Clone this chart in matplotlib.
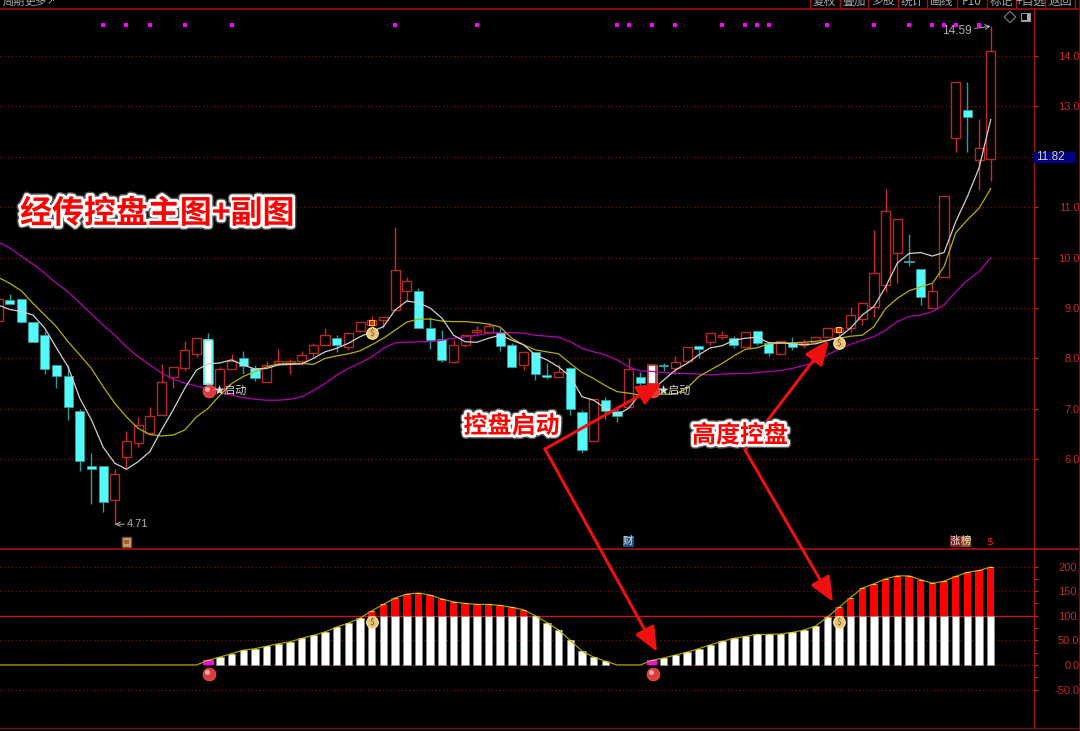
import numpy as np
import matplotlib
matplotlib.use('Agg')
import matplotlib.pyplot as plt
import matplotlib.patheffects as pe
from matplotlib.patches import FancyArrowPatch, Rectangle

plt.rcParams['font.family'] = ['Noto Sans CJK SC', 'DejaVu Sans']

opens = [8.75, 9.16, 9.18, 8.73, 8.46, 7.86, 7.66, 6.96, 5.86, 5.87, 5.20, 6.04, 6.32, 6.51, 6.87, 7.64, 7.80, 8.09, 8.36, 7.36,
         7.78, 8.00, 7.81, 7.54, 7.88, 7.91, 7.95, 8.10, 8.26, 8.40, 8.23, 8.55, 8.66, 8.76, 8.96, 9.34, 9.33, 8.60, 8.38, 7.93,
         8.26, 8.52, 8.53, 8.53, 8.26, 7.86, 8.13, 7.67, 7.64, 7.80, 6.94, 6.36, 7.17, 6.96, 7.03, 7.64, 7.86, 7.87, 7.80, 7.95,
         8.25, 8.32, 8.42, 8.40, 8.23, 8.54, 8.30, 8.08, 8.31, 8.27, 8.33, 8.42, 8.53, 8.60, 8.78, 9.01, 9.46, 10.10, 9.93, 9.77,
         8.99, 9.62, 12.37, 12.93, 11.94, 11.95]
closes = [9.18, 9.07, 8.73, 8.33, 7.78, 7.65, 7.04, 5.96, 5.80, 5.16, 5.70, 6.36, 6.68, 6.86, 7.53, 7.82, 8.16, 8.40, 7.49, 7.78,
          7.95, 7.85, 7.61, 7.87, 7.95, 7.95, 8.07, 8.26, 8.46, 8.26, 8.50, 8.72, 8.76, 8.83, 9.75, 9.54, 8.61, 8.36, 7.97, 8.26,
          8.47, 8.56, 8.64, 8.25, 7.83, 8.13, 7.70, 7.64, 7.73, 6.99, 6.18, 7.19, 6.96, 6.86, 7.78, 7.52, 7.50, 7.84, 7.92, 8.23,
          8.18, 8.50, 8.46, 8.27, 8.53, 8.30, 8.10, 8.35, 8.22, 8.30, 8.43, 8.60, 8.60, 8.87, 9.09, 9.69, 10.92, 10.76, 9.91, 9.21,
          9.34, 11.23, 13.48, 12.78, 12.17, 14.10]
highs = [9.18, 9.28, 9.18, 8.73, 8.55, 7.86, 7.87, 6.99, 6.12, 5.87, 5.80, 6.55, 6.83, 7.03, 7.88, 7.83, 8.35, 8.40, 8.50, 7.83,
         8.08, 8.15, 7.86, 7.95, 8.18, 7.98, 8.15, 8.30, 8.60, 8.46, 8.50, 8.72, 8.85, 8.83, 10.60, 9.61, 9.39, 8.83, 8.56, 8.36,
         8.47, 8.64, 8.70, 8.61, 8.30, 8.13, 8.13, 7.90, 7.89, 7.83, 6.98, 7.19, 7.23, 7.05, 8.00, 7.72, 7.86, 7.91, 8.05, 8.23,
         8.25, 8.50, 8.54, 8.44, 8.53, 8.54, 8.34, 8.35, 8.42, 8.39, 8.43, 8.60, 8.64, 9.01, 9.12, 10.55, 11.36, 10.76, 10.47, 9.77,
         9.49, 11.23, 13.48, 13.48, 12.75, 14.59]
lows = [8.75, 9.07, 8.71, 8.32, 7.70, 7.42, 6.78, 5.77, 5.11, 4.96, 4.71, 5.82, 6.24, 6.51, 6.87, 7.41, 7.74, 8.02, 7.49, 7.34,
        7.78, 7.70, 7.56, 7.54, 7.88, 7.70, 7.87, 8.03, 8.25, 8.13, 8.17, 8.52, 8.56, 8.60, 8.96, 9.12, 8.61, 8.19, 7.93, 7.91,
        8.22, 8.44, 8.51, 8.15, 7.82, 7.77, 7.57, 7.60, 7.64, 6.88, 6.12, 6.36, 6.79, 6.74, 7.03, 7.47, 7.50, 7.75, 7.69, 7.90,
        8.00, 8.26, 8.38, 8.20, 8.23, 8.27, 8.05, 8.08, 8.17, 8.21, 8.33, 8.42, 8.37, 8.53, 8.66, 8.83, 9.32, 9.50, 9.84, 9.06,
        8.99, 9.62, 12.10, 12.10, 11.34, 11.52]

ma_white = [9.06, 8.97, 8.93, 8.86, 8.60, 8.21, 7.83, 7.21, 6.78, 6.24, 5.92, 5.80, 5.95, 6.15, 6.58, 6.98, 7.41, 7.77, 7.89, 7.91,
            7.97, 7.87, 7.79, 7.80, 7.87, 7.88, 7.89, 8.00, 8.13, 8.20, 8.30, 8.43, 8.53, 8.63, 8.96, 9.14, 9.10, 9.00, 8.80, 8.46,
            8.33, 8.32, 8.40, 8.46, 8.36, 8.27, 8.07, 7.97, 7.83, 7.64, 7.24, 7.17, 7.01, 6.88, 7.01, 7.31, 7.37, 7.57, 7.77, 7.90,
            8.07, 8.21, 8.25, 8.36, 8.40, 8.42, 8.31, 8.31, 8.29, 8.27, 8.29, 8.35, 8.42, 8.60, 8.86, 9.03, 9.42, 9.89, 10.08, 10.10,
            10.03, 10.10, 10.71, 11.21, 11.78, 12.74]
ma_yellow = [9.61, 9.49, 9.34, 9.09, 8.86, 8.63, 8.33, 8.07, 7.80, 7.44, 7.11, 6.84, 6.61, 6.49, 6.46, 6.48, 6.58, 6.84, 7.01, 7.27,
             7.50, 7.64, 7.74, 7.83, 7.89, 7.90, 7.90, 7.88, 8.00, 8.05, 8.09, 8.15, 8.27, 8.40, 8.56, 8.72, 8.78, 8.78, 8.74, 8.73,
             8.73, 8.71, 8.68, 8.62, 8.40, 8.27, 8.17, 8.13, 8.09, 7.90, 7.72, 7.60, 7.46, 7.34, 7.31, 7.27, 7.29, 7.29, 7.29, 7.41,
             7.64, 7.77, 7.90, 8.05, 8.18, 8.21, 8.29, 8.30, 8.31, 8.32, 8.34, 8.36, 8.40, 8.44, 8.46, 8.63, 8.99, 9.19, 9.34, 9.42,
             9.49, 9.82, 10.49, 10.75, 10.98, 11.37]
ma_magenta = [10.31, 10.19, 10.03, 9.87, 9.69, 9.49, 9.32, 9.10, 8.88, 8.66, 8.46, 8.23, 8.03, 7.87, 7.71, 7.59, 7.51, 7.45, 7.39, 7.33,
              7.27, 7.22, 7.19, 7.17, 7.17, 7.19, 7.24, 7.36, 7.50, 7.67, 7.80, 7.91, 8.03, 8.20, 8.31, 8.32, 8.33, 8.33, 8.36, 8.40,
              8.43, 8.46, 8.50, 8.51, 8.51, 8.50, 8.46, 8.44, 8.42, 8.33, 8.20, 8.13, 8.07, 7.97, 7.83, 7.75, 7.74, 7.72, 7.70, 7.70,
              7.69, 7.67, 7.69, 7.70, 7.70, 7.72, 7.74, 7.76, 7.80, 7.86, 7.92, 8.07, 8.18, 8.28, 8.36, 8.43, 8.56, 8.73, 8.83, 8.86,
              8.93, 9.06, 9.32, 9.55, 9.72, 10.00]

control = [0, 0, 0, 0, 0, 0, 0, 0, 0, 0, 0, 0, 0, 0, 0, 0, 0, 0, 9.5, 16,
           23, 30, 33, 38, 43, 47, 54, 60, 67, 77, 85, 95, 110, 123, 136, 144, 146, 142, 134, 128,
           125, 123, 123, 121, 117, 112, 100, 86, 71, 50, 28, 16, 7.5, 0, 0, 0, 9.5, 14, 20, 26,
           33, 41, 48, 54, 58, 62, 62, 63, 66, 71, 79, 97, 117, 137, 156, 165, 175, 181, 181, 173,
           166, 170, 180, 188, 192, 199]

dot_bars = [9, 11, 13, 16, 20, 34, 41, 53, 54, 56, 58, 62, 64, 65, 66, 71, 75, 78, 80, 81, 82, 84]
start_bars = [18, 56]
bag_bars = [32, 72]
price_ticks = [6, 7, 8, 9, 10, 11, 12, 13, 14]
price_labels = ['6.00', '7.00', '8.00', '9.00', '10.00', '11.00', '', '13.00', '14.00']
sub_ticks = [-50, 0, 50, 100, 150, 200]
sub_labels = ['-50.00', '0.00', '50.00', '100.0', '150.0', '200.0']
toolbar_names = ['复权', '叠加', '多股', '统计', '画线', 'F10', '标记', '+自选', '返回']
last_price = '11.82'

W, H = 1080, 731
DARK = '#7a0f0f'
CYAN = '#54fafa'
TICK_RED = '#c42a2a'

x = np.arange(len(opens))
o = np.array(opens)
c = np.array(closes)
ctrl = np.array(control)


def panel(top, bottom):
    return [0, 1 - bottom / H, 1033.5 / W, (bottom - top) / H]


fig = plt.figure(figsize=(W / 100, H / 100), dpi=100, facecolor='black')
ax = fig.add_axes(panel(8.5, 548.5), facecolor='black')
sub = fig.add_axes(panel(548.5, 728), facecolor='black')

for a in (ax, sub):
    a.set_xlim(0.171, 88.66)
    a.set_xticks([])
    a.yaxis.tick_right()
    for s in ('left', 'bottom', 'top'):
        a.spines[s].set_visible(False)
    a.spines['right'].set_color('#a01515')
    a.spines['right'].set_linewidth(1)
    a.tick_params(axis='y', which='both', colors=TICK_RED, labelsize=8, length=3, width=0.8, pad=34.5)

# main chart
ax.set_ylim(4.228, 14.942)
ax.set_yticks(price_ticks, price_labels, family=['Liberation Sans'], ha='right')
ax.grid(axis='y', color=DARK, linestyle=(0, (1, 2)), linewidth=0.9, zorder=0)
ax.set_axisbelow(True)

up = c >= o
bar_top = np.maximum(o, c)
bar_bot = np.minimum(o, c)
ax.vlines(x[up], np.array(lows)[up], np.array(highs)[up], color='#cf2a2a', lw=1, zorder=2)
ax.vlines(x[~up], np.array(lows)[~up], np.array(highs)[~up], color='#2f9c9c', lw=1, zorder=2)
ax.bar(x[up], (bar_top - bar_bot)[up], bottom=bar_bot[up], width=0.78, facecolor='black',
       edgecolor='#b92828', linewidth=1, zorder=3)
ax.bar(x[~up], (bar_top - bar_bot)[~up], bottom=bar_bot[~up], width=0.78, facecolor=CYAN,
       edgecolor='#2f9c9c', linewidth=0.6, zorder=3)
# start signal candles are painted white
ax.bar(start_bars, (bar_top - bar_bot)[start_bars], bottom=bar_bot[start_bars], width=0.66,
       facecolor='white', edgecolor=[CYAN, '#c02828'], linewidth=1.2, zorder=3)

ax.plot(x, ma_magenta, color='#b400b4', lw=0.9, zorder=4)
ax.plot(x, ma_yellow, color='#b8b000', lw=0.9, zorder=4)
ax.plot(x, ma_white, color='#d0d0d0', lw=0.9, zorder=4)

ax.scatter(dot_bars, [14.62] * len(dot_bars), marker='s', s=6, color='#ff00ff', linewidths=0, zorder=4)

ax.annotate('4.71', xy=(10, 4.71), xytext=(11.05, 4.71), color='#b0b0b0', fontsize=8, va='center',
            family=['Liberation Sans'], arrowprops=dict(arrowstyle='->', color='#b0b0b0', lw=0.7, shrinkA=0, shrinkB=0))
ax.annotate('14.59', xy=(85, 14.59), xytext=(83.4, 14.5), color='#b0b0b0', fontsize=8.5, va='center', ha='right',
            family=['Liberation Sans'], arrowprops=dict(arrowstyle='->', color='#b0b0b0', lw=0.7, shrinkA=0, shrinkB=0))

for i in start_bars:
    ax.scatter(i + 0.05, 7.35, s=85, color='#e03a3a', edgecolors='#f06060', linewidths=0.5, zorder=5)
    ax.scatter(i - 0.1, 7.39, s=12, color='#ffb0b0', linewidths=0, zorder=6)
    ax.text(i + 0.5, 7.36, '★启动', color='#d8d8d8', fontsize=8, va='center', zorder=6)

for i in bag_bars:
    ax.scatter(i, 8.5 if i == 32 else 8.3, s=70, color='#e8c47a', edgecolors='#ffe890', linewidths=0.8, zorder=6)
    ax.text(i, 8.5 if i == 32 else 8.3, '$', color='#805020', fontsize=6, ha='center', va='center', zorder=7)
    ax.scatter(i, 8.71 if i == 32 else 8.57, marker='s', s=22, color='#ffd000', linewidths=0, zorder=6)
    ax.scatter(i, 8.71 if i == 32 else 8.57, marker='s', s=8, color='#e82000', linewidths=0, zorder=7)

# control indicator
sub.set_ylim(-128.2, 236.6)
sub.set_yticks(sub_ticks, sub_labels, family=['Liberation Sans'], ha='right')
sub.set_yticks([-25, 25, 75, 125, 175], minor=True)
sub.tick_params(axis='y', which='minor', length=3, width=0.7)
sub.grid(axis='y', color=DARK, linestyle=(0, (1, 2)), linewidth=0.9)
sub.set_axisbelow(True)
sub.axhline(100, color='#c01818', lw=1, zorder=1)

shown = (ctrl > 0) & ~np.isin(x, start_bars)
sub.bar(x[shown], np.minimum(ctrl, 100)[shown], width=0.64, color='white', edgecolor='#909090', linewidth=0.5, zorder=2)
hot = ctrl > 100
sub.bar(x[hot], (ctrl - 100)[hot], bottom=100, width=0.64, color='#ff0000', linewidth=0, zorder=2)
sub.bar(start_bars, ctrl[start_bars], width=0.92, color='#ff00ff', linewidth=0, zorder=2)
sub.plot(x, ctrl, color='#a8a000', lw=0.9, zorder=3)
sub.scatter(x[ctrl > 0], ctrl[ctrl > 0], marker='_', s=6, color='#f0e000', linewidths=0.7, zorder=3)

for i in start_bars:
    sub.scatter(i + 0.05, -18.5, s=85, color='#e03a3a', edgecolors='#f06060', linewidths=0.5, zorder=5)
    sub.scatter(i - 0.1, -15, s=12, color='#ffb0b0', linewidths=0, zorder=6)
for i in bag_bars:
    sub.scatter(i, 87, s=70, color='#e8c47a', edgecolors='#ffe890', linewidths=0.8, zorder=6)
    sub.text(i, 87, '$', color='#805020', fontsize=6, ha='center', va='center', zorder=7)

# overlay in pixel coordinates: toolbar, tags and the red hand drawn notes
top = fig.add_axes([0, 0, 1, 1], facecolor='none', zorder=10)
top.set_xlim(0, W)
top.set_ylim(H, 0)
top.axis('off')

top.plot([0, W], [8.5, 8.5], color='#a01010', lw=1.2)
top.plot([0, W], [548.5, 548.5], color='#a81212', lw=1.2)
top.plot([0, W], [728, 728], color='#701010', lw=1)
top.plot([1079, 1079], [0, H], color='#701010', lw=0.8)

seps = [810, 839.5, 868, 898, 927, 957, 987, 1016, 1045, 1075]
for sx in seps:
    top.plot([sx, sx], [0, 8], color='#a01010', lw=1)
for name, left, right in zip(toolbar_names, seps[:-1], seps[1:]):
    top.text((left + right) / 2, 1.5, name, color='#a8a8a8', fontsize=8.5, ha='center', va='center')
top.text(14, 1.5, '周期', color='#a8a8a8', fontsize=8, ha='center', va='center')
top.text(36, 1.5, '更多', color='#a8a8a8', fontsize=8, ha='center', va='center')
top.text(51, 1.5, '↗', color='#a8a8a8', fontsize=7, ha='center', va='center', family=['DejaVu Sans'])

top.scatter(1010, 17, marker='D', s=34, facecolor='none', edgecolor='#808080', linewidths=0.8)
top.add_patch(Rectangle((1021, 13), 9, 8, facecolor='#b0b0b0', edgecolor='#909090', lw=0.8))
top.add_patch(Rectangle((1022, 14), 4.5, 6, facecolor='black', edgecolor='none'))

top.add_patch(Rectangle((1034, 152), 42, 11, facecolor='#000080', edgecolor='none'))
top.text(1036, 157.5, last_price, color='#d0d0d0', fontsize=8.5, va='center', family=['Liberation Sans'])

top.add_patch(Rectangle((121.5, 536.5), 9.5, 10, facecolor='#c8a078', edgecolor='#80502a', lw=1))
top.add_patch(Rectangle((124, 539.5), 4.5, 4, facecolor='#a06030', edgecolor='none'))
top.add_patch(Rectangle((623, 536), 10.5, 11, facecolor='#1f5080', edgecolor='none'))
top.text(628.2, 541.3, '财', color='#e0e0e0', fontsize=7.5, ha='center', va='center')
top.add_patch(Rectangle((950, 536), 10.5, 11, facecolor='#7a2020', edgecolor='none'))
top.add_patch(Rectangle((960.5, 536), 10.5, 11, facecolor='#8a5020', edgecolor='none'))
top.text(955.2, 541.3, '涨', color='#e8e0d8', fontsize=7.5, ha='center', va='center')
top.text(965.7, 541.3, '榜', color='#e8e0d8', fontsize=7.5, ha='center', va='center')
top.text(990, 542, '$', color='#e02020', fontsize=8, ha='center', va='center', family=['DejaVu Sans'])

for tip, base in [((662, 383), (545, 449)), ((657, 652), (545, 449)),
                  ((829, 340), (745, 450)), ((833, 602), (745, 450))]:
    top.add_patch(FancyArrowPatch(base, tip, arrowstyle='-|>,head_length=0.75,head_width=0.32', mutation_scale=20,
                                  color='#f01010', lw=2.2, shrinkA=0, shrinkB=0, zorder=8))

glow = [pe.Stroke(linewidth=6, foreground='#555555'), pe.Stroke(linewidth=4, foreground='white'), pe.Normal()]
top.text(157.5, 214, '经传控盘主图+副图', color='#ff0000', fontsize=23, fontweight='bold', ha='center', va='center',
         path_effects=glow, zorder=9)
top.text(511.5, 426, '控盘启动', color='#ff0000', fontsize=17.3, fontweight='bold', ha='center', va='center',
         path_effects=glow, zorder=9)
top.text(740, 435.5, '高度控盘', color='#ff0000', fontsize=17.3, fontweight='bold', ha='center', va='center',
         path_effects=glow, zorder=9)

fig.savefig('out.png', dpi=100, facecolor='black')
